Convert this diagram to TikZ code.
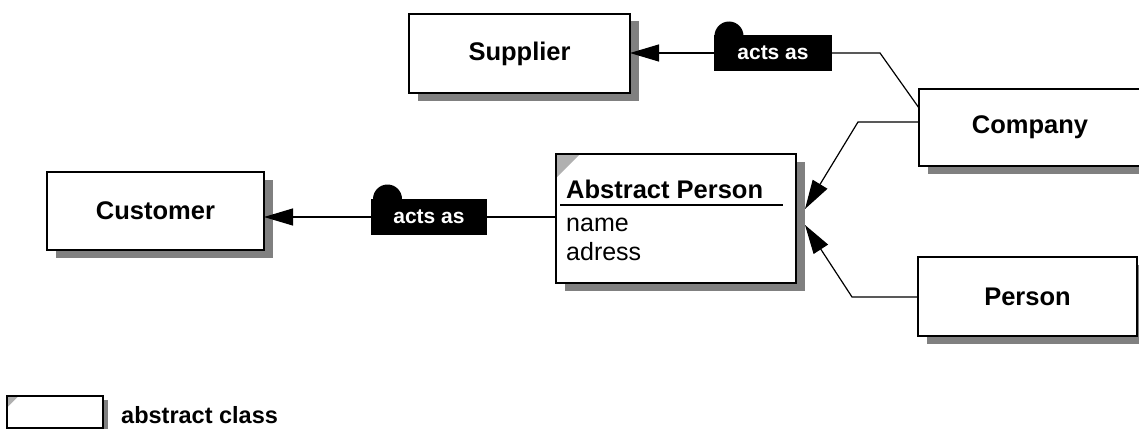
\documentclass[tikz,border=0pt]{standalone}
\usepackage{fontspec}
\setmainfont{Liberation Sans}
\usetikzlibrary{arrows.meta,shadows}
\definecolor{shadowgray}{HTML}{808080}
\definecolor{cornergray}{HTML}{B0B0B0}
\begin{document}
\begin{tikzpicture}[x=1pt,y=-1pt,
  boxshadow/.style={drop shadow={shadow xshift=8.5pt,shadow yshift=-7.5pt,fill=shadowgray,opacity=1}},
  classbox/.style={draw=black,line width=2.6pt,fill=white,inner sep=0pt,outer sep=0pt,
    font=\fontsize{25.5}{30}\selectfont\bfseries,boxshadow},
  abstractmark/.style={path picture={\fill[cornergray] (path picture bounding box.north west)
    -- ++(#1,0pt) -- ++(-#1,-#1) -- cycle;}},
  rolebox/.style={fill=black,text=white,inner sep=0pt,outer sep=0pt,
    minimum width=118pt,minimum height=36pt,font=\fontsize{21}{25}\selectfont\bfseries},
  attr/.style={anchor=base west,inner sep=0pt,font=\fontsize{25}{30}\selectfont},
  conn/.style={line width=1.2pt},
  head/.style={-{Triangle[length=29pt,width=17pt]}},
]
\useasboundingbox (0,0) rectangle (1139,428);

% classes
\node[classbox,minimum width=221pt,minimum height=79pt] (sup) at (519.5,53.5) {Supplier};
\node[classbox,minimum width=217pt,minimum height=78pt] (cust) at (155.5,211) {Customer};
\node[classbox,minimum width=222pt,minimum height=77pt] (comp) at (1030,127.5) {Company};
\node[classbox,minimum width=219pt,minimum height=79pt] (pers) at (1027.5,296.5) {Person};
\node[classbox,line width=2.3pt,abstractmark=24pt,minimum width=240pt,minimum height=129pt] (abs) at (676,218.5) {};

% abstract class contents
\node[attr,font=\fontsize{25.5}{30}\selectfont\bfseries] (absname) at (566,198) {Abstract Person};
\draw[line width=2pt] ([xshift=-6pt,yshift=-7pt]absname.base west) -- ([xshift=217pt,yshift=-7pt]absname.base west);
\node[attr] (attrname) at (566,231) {name};
\node[attr] (attradr) at (566,260) {adress};

% role labels with their tabs
\fill (729,36) circle[radius=14.5pt];
\node[rolebox] (actsA) at (773,53) {acts as};
\fill (387.5,199) circle[radius=14.5pt];
\node[rolebox,minimum width=116pt] (actsB) at (429,217) {acts as};

% connectors
\draw[conn,head] (actsA.west) -- (actsA.west -| sup.east);
\draw[conn] ([yshift=19.5pt]comp.west) -- ([xshift=48pt]actsA.east) -- (actsA.east);
\draw[conn,head] (actsB.west) -- (actsB.west -| cust.east);
\draw[conn] (actsB.east) -- (actsB.east -| abs.west);
\draw[conn,head] ([yshift=5.5pt]comp.west) -- ([xshift=-61pt,yshift=5.5pt]comp.west)
  -- ([xshift=9pt,yshift=9.5pt]abs.east);
\draw[conn,head] ([yshift=-0.5pt]pers.west) -- ([xshift=-66pt,yshift=-0.5pt]pers.west)
  -- ([xshift=9pt,yshift=-6.5pt]abs.east);

% legend
\node[draw=black,line width=2pt,fill=white,inner sep=0pt,outer sep=0pt,
  minimum width=96pt,minimum height=32pt,abstractmark=12pt,
  drop shadow={shadow xshift=5pt,shadow yshift=-4pt,fill=shadowgray,opacity=1}] (legbox) at (55,411.5) {};
\node[attr,font=\fontsize{23.5}{28}\selectfont\bfseries] (legtext) at (121,423) {abstract class};
\end{tikzpicture}
\end{document}
